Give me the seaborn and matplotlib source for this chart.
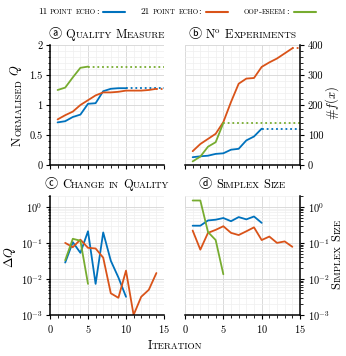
import seaborn as sns
import matplotlib.pyplot as plt
import matplotlib.ticker as ticker
from matplotlib.offsetbox import TextArea, HPacker, DrawingArea, AnchoredOffsetbox
from matplotlib.lines import Line2D
from matplotlib.text import Annotation
from matplotlib.transforms import Bbox

# Series labels and colours
LABELS = ['11 point echo:', '21 point echo:', 'oop-eseem:']
COLORS = ['#0072BD', '#D95319', '#77AC30']

# Iteration numbers
ITER_11 = [1, 2, 3, 4, 5, 6, 7, 8, 9, 10]
ITER_21 = [1, 2, 3, 4, 5, 6, 7, 8, 9, 10, 11, 12, 13, 14]
ITER_OOP = [1, 2, 3, 4, 5]

# (a) normalised quality measure
Q_11 = [0.71, 0.73, 0.80, 0.84, 1.02, 1.03, 1.23, 1.27, 1.28, 1.28]
Q_21 = [0.76, 0.83, 0.89, 1.00, 1.08, 1.16, 1.21, 1.21, 1.22, 1.24, 1.24, 1.24, 1.25, 1.27]
Q_OOP = [1.25, 1.29, 1.46, 1.62, 1.64]

# (b) number of experiments
NF_11 = [26, 29, 31, 37, 39, 51, 54, 82, 95, 121]
NF_21 = [46, 70, 87, 104, 143, 210, 271, 288, 290, 327, 342, 355, 372, 389]
NF_OOP = [12, 28, 61, 76, 140]

# (c) change in quality, starts at iteration 2
DQ_11 = [0.0285, 0.105, 0.053, 0.21, 0.0073, 0.195, 0.032, 0.011, 0.0032]
DQ_21 = [0.10, 0.076, 0.123, 0.073, 0.070, 0.039, 0.004, 0.003, 0.017, 0.001, 0.0032, 0.005, 0.0146]
DQ_OOP = [0.033, 0.13, 0.115, 0.0073]

# (d) simplex size
SIZE_11 = [0.30, 0.30, 0.42, 0.44, 0.49, 0.40, 0.52, 0.45, 0.54, 0.36]
SIZE_21 = [0.22, 0.065, 0.19, 0.23, 0.29, 0.19, 0.165, 0.21, 0.27, 0.12, 0.15, 0.10, 0.11, 0.078]
SIZE_OOP = [1.5, 1.5, 0.20, 0.12, 0.0135]

TITLES = ['Quality Measure', 'N$^{\\mathrm{o}}$ Experiments', 'Change in Quality', 'Simplex Size']
TAGS = ['\u24d0', '\u24d1', '\u24d2', '\u24d3']

W, H = 346, 356
SC = 0.74
LW = 1.3

sns.set_theme(style='ticks')
plt.rcParams.update({
    'font.family': ['cmr10', 'DejaVu Sans'],
    'mathtext.fontset': 'cm',
    'axes.formatter.use_mathtext': True,
    'axes.unicode_minus': False,
    'font.size': 7.5,
    'xtick.labelsize': 7.5,
    'ytick.labelsize': 7.5,
    'text.color': 'black',
    'axes.labelcolor': 'black',
    'xtick.color': 'black',
    'ytick.color': 'black',
    'axes.edgecolor': 'black',
    'axes.linewidth': 1.1,
    'xtick.direction': 'out',
    'ytick.direction': 'out',
    'xtick.major.size': 3,
    'ytick.major.size': 3,
    'xtick.minor.size': 1.8,
    'ytick.minor.size': 1.8,
    'xtick.major.width': 0.8,
    'ytick.major.width': 0.8,
    'xtick.minor.width': 0.6,
    'ytick.minor.width': 0.6,
    'xtick.major.pad': 2.5,
    'ytick.major.pad': 2.5,
})


def sc_runs(text, size):
    # split text into words made of runs, lowercase letters become small caps
    words = []
    for word in text.split(' '):
        if '$' in word:
            words.append([(word, size)])
            continue
        runs = []
        for ch in word:
            sz = size * SC if ch.islower() else size
            ch = ch.upper()
            if runs and runs[-1][1] == sz:
                runs[-1] = (runs[-1][0] + ch, sz)
            else:
                runs.append((ch, sz))
        words.append(runs)
    return words


def sc_box(text, size, tag=None):
    words = []
    if tag is not None:
        words.append(TextArea(tag, textprops=dict(family=['Noto Sans CJK JP', 'DejaVu Sans'],
                                                  size=size + 0.5)))
    for runs in sc_runs(text, size):
        parts = [TextArea(s, textprops=dict(size=sz)) for s, sz in runs]
        words.append(HPacker(children=parts, align='baseline', pad=0, sep=0))
    return HPacker(children=words, align='baseline', pad=0, sep=size * 0.3)


def sc_vertical(fig, x_px, text, size):
    arts = []
    for runs in sc_runs(text, size):
        for ri, (s, sz) in enumerate(runs):
            kw = dict(rotation=90, ha='right', va='bottom', fontsize=sz)
            if not arts:
                t = fig.text(x_px / W, 0.5, s, **kw)
            else:
                gap = size * 0.3 if ri == 0 else 0
                t = Annotation(s, xy=(1, 1), xycoords=arts[-1], xytext=(0, gap),
                               textcoords='offset points', **kw)
                fig.add_artist(t)
            arts.append(t)
    return arts


fig = plt.figure(figsize=(W / 100, H / 100), dpi=100)


def add_ax(left, top, right, bottom):
    return fig.add_axes([left / W, 1 - bottom / H, (right - left) / W, (bottom - top) / H])


ax_q = add_ax(50, 45, 164, 165)
ax_n = add_ax(185, 45, 300, 165)
ax_dq = add_ax(50, 196, 164, 315)
ax_s = add_ax(185, 196, 300, 315)
axes = [ax_q, ax_n, ax_dq, ax_s]

iters = [ITER_11, ITER_21, ITER_OOP]
panels = [
    (ax_q, [Q_11, Q_21, Q_OOP], 0, True),
    (ax_n, [NF_11, NF_21, NF_OOP], 0, True),
    (ax_dq, [DQ_11, DQ_21, DQ_OOP], 1, False),
    (ax_s, [SIZE_11, SIZE_21, SIZE_OOP], 0, False),
]

for ax, series, skip, extend in panels:
    for it, vals, col in zip(iters, series, COLORS):
        x = it[skip:]
        sns.lineplot(x=x, y=vals, color=col, lw=LW, ax=ax, legend=False)
        if extend:
            # dotted continuation of the final value
            sns.lineplot(x=[x[-1], 15], y=[vals[-1], vals[-1]], color=col, lw=LW,
                         linestyle=(0, (1, 1.6)), ax=ax, legend=False)

for i, ax in enumerate(axes):
    ax.set_xlim(0, 15)
    ax.xaxis.set_major_locator(ticker.MultipleLocator(5))
    ax.xaxis.set_minor_locator(ticker.MultipleLocator(1))
    ax.set_axisbelow(True)
    ax.grid(which='major', color='#dadada', lw=0.7)
    ax.grid(which='minor', color='#efefef', lw=0.5)
    ax.set_xlabel('')
    ax.set_ylabel('')
    ax.spines['top'].set_visible(False)
    if i % 2 == 0:
        ax.spines['right'].set_visible(False)
    else:
        ax.spines['left'].set_visible(False)
        ax.yaxis.tick_right()
        ax.yaxis.set_label_position('right')
    if i < 2:
        ax.tick_params(labelbottom=False)

ax_q.set_ylim(0, 2)
ax_q.yaxis.set_major_locator(ticker.MultipleLocator(0.5))
ax_q.yaxis.set_minor_locator(ticker.MultipleLocator(0.1))
ax_q.yaxis.set_major_formatter(ticker.FuncFormatter(lambda v, p: f'{v:g}'))

ax_n.set_ylim(0, 400)
ax_n.yaxis.set_major_locator(ticker.MultipleLocator(100))
ax_n.yaxis.set_minor_locator(ticker.MultipleLocator(20))
ax_n.yaxis.set_major_formatter(ticker.FuncFormatter(lambda v, p: f'{v:g}'))

for ax in (ax_dq, ax_s):
    ax.set_yscale('log')
    ax.set_ylim(1e-3, 2)
    ax.yaxis.set_major_locator(ticker.LogLocator(base=10, numticks=10))
    ax.yaxis.set_minor_locator(ticker.LogLocator(base=10, subs=range(2, 10), numticks=10))
    ax.yaxis.set_minor_formatter(ticker.NullFormatter())

# panel titles with small caps
title_y = [41, 41, 191, 191]
for ax, title, tag, ty in zip(axes, TITLES, TAGS, title_y):
    pos = ax.get_position()
    box = AnchoredOffsetbox(loc='lower center', child=sc_box(title, 9, tag), pad=0, borderpad=0,
                            frameon=False, bbox_to_anchor=((pos.x0 + pos.x1) / 2, 1 - ty / H),
                            bbox_transform=fig.transFigure)
    fig.add_artist(box)

# shared x label
fig.add_artist(AnchoredOffsetbox(loc='lower center', child=sc_box('Iteration', 9), pad=0, borderpad=0,
                                 frameon=False, bbox_to_anchor=(175 / W, 1 - 352 / H),
                                 bbox_transform=fig.transFigure))

# y labels, rotated
ylabels = [
    (sc_vertical(fig, 24, 'Normalised $Q$', 9), 105),
    (sc_vertical(fig, 341, '#$f(x)$', 9), 103),
    (sc_vertical(fig, 18, '$\\Delta{Q}$', 9), 257),
    (sc_vertical(fig, 343, 'Simplex Size', 9), 254),
]

# legend across the top
entries = []
for lab, col in zip(LABELS, COLORS):
    da = DrawingArea(16, 6, 0, 0)
    da.add_artist(Line2D([0, 16], [3, 3], color=col, lw=1.5))
    entries.append(HPacker(children=[sc_box(lab, 6.8), da], align='center', pad=0, sep=3.5))
legend_box = HPacker(children=entries, align='center', pad=0, sep=11)
fig.add_artist(AnchoredOffsetbox(loc='center', child=legend_box, pad=0, borderpad=0, frameon=False,
                                 bbox_to_anchor=(177 / W, 1 - 12 / H), bbox_transform=fig.transFigure))

# centre the rotated labels now that their sizes are known
fig.canvas.draw()
for arts, yc in ylabels:
    bb = Bbox.union([a.get_window_extent() for a in arts])
    shift = (H - yc) - (bb.y0 + bb.y1) / 2
    x0, y0 = arts[0].get_position()
    arts[0].set_position((x0, y0 + shift / H))

fig.savefig('out.png', dpi=100)
